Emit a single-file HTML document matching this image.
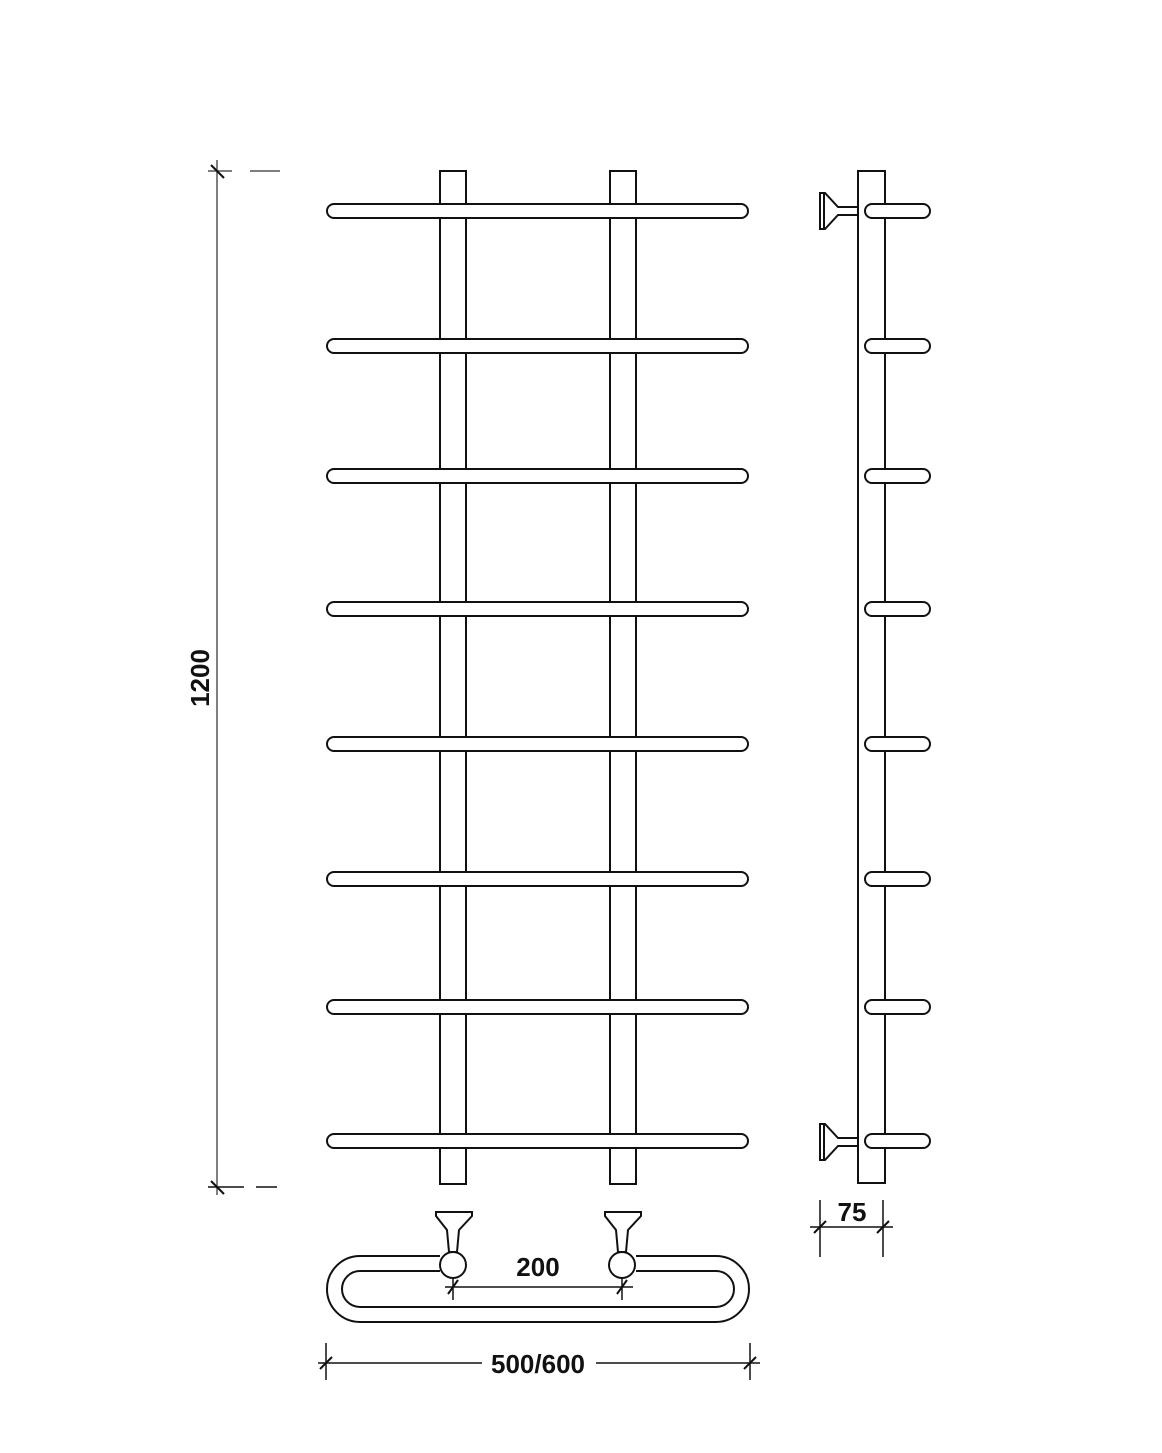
<!DOCTYPE html>
<html><head><style>body{margin:0;background:#fff}svg{display:block}</style></head>
<body>
<svg width="1162" height="1453" viewBox="0 0 1162 1453" xmlns="http://www.w3.org/2000/svg" font-family="Liberation Sans, sans-serif">
<g fill="none" stroke="#111" stroke-width="2">
<!-- front verticals -->
<rect x="440" y="171" width="26" height="1013" fill="#fff"/>
<rect x="610" y="171" width="26" height="1013" fill="#fff"/>
<!-- front bars -->
<g fill="#fff">
<rect x="327" y="204" width="421" height="14" rx="7"/>
<rect x="327" y="339" width="421" height="14" rx="7"/>
<rect x="327" y="469" width="421" height="14" rx="7"/>
<rect x="327" y="602" width="421" height="14" rx="7"/>
<rect x="327" y="737" width="421" height="14" rx="7"/>
<rect x="327" y="872" width="421" height="14" rx="7"/>
<rect x="327" y="1000" width="421" height="14" rx="7"/>
<rect x="327" y="1134" width="421" height="14" rx="7"/>
</g>
<!-- side view -->
<rect x="858" y="171" width="27" height="1012" fill="#fff"/>
<g fill="#fff">
<rect x="865" y="204" width="65" height="14" rx="7"/>
<rect x="865" y="339" width="65" height="14" rx="7"/>
<rect x="865" y="469" width="65" height="14" rx="7"/>
<rect x="865" y="602" width="65" height="14" rx="7"/>
<rect x="865" y="737" width="65" height="14" rx="7"/>
<rect x="865" y="872" width="65" height="14" rx="7"/>
<rect x="865" y="1000" width="65" height="14" rx="7"/>
<rect x="865" y="1134" width="65" height="14" rx="7"/>
</g>
<!-- side brackets -->
<g fill="#fff">
<path d="M820 193 L825 193 L838 207 L858 207 L858 215 L838 215 L825 229 L820 229 Z"/>
<line x1="824" y1="194" x2="824" y2="228"/>
<path d="M820 1124 L825 1124 L838 1138 L858 1138 L858 1146 L838 1146 L825 1160 L820 1160 Z"/>
<line x1="824" y1="1125" x2="824" y2="1159"/>
</g>
<!-- bottom view loop -->
<path d="M440 1256 L360 1256 A33 33 0 0 0 360 1322 L716 1322 A33 33 0 0 0 716 1256 L636 1256"/>
<path d="M440 1271 L360 1271 A18 18 0 0 0 360 1307 L716 1307 A18 18 0 0 0 716 1271 L636 1271"/>
<g fill="#fff">
<circle cx="453" cy="1265" r="13"/>
<circle cx="622" cy="1265" r="13"/>
<path d="M436 1212 L472 1212 L472 1216 L459 1230 L457 1252 L449 1252 L447 1230 L436 1216 Z"/>
<path d="M605 1212 L641 1212 L641 1216 L628 1230 L626 1252 L618 1252 L616 1230 L605 1216 Z"/>
</g>
<!-- 200 dimension -->
<line x1="445" y1="1287" x2="633" y2="1287" stroke-width="1.5"/>
<line x1="453" y1="1277" x2="453" y2="1300" stroke-width="1.5"/>
<line x1="622" y1="1277" x2="622" y2="1300" stroke-width="1.5"/>
<line x1="448" y1="1294" x2="458" y2="1280"/>
<line x1="617" y1="1294" x2="627" y2="1280"/>
<!-- 500/600 -->
<line x1="318" y1="1363" x2="482" y2="1363" stroke-width="1.5"/>
<line x1="596" y1="1363" x2="760" y2="1363" stroke-width="1.5"/>
<line x1="326" y1="1343" x2="326" y2="1380" stroke-width="1.5"/>
<line x1="750" y1="1343" x2="750" y2="1380" stroke-width="1.5"/>
<line x1="320" y1="1369" x2="332" y2="1357"/>
<line x1="744" y1="1369" x2="756" y2="1357"/>
<!-- 1200 -->
<line x1="217" y1="160" x2="217" y2="1195" stroke="#555" stroke-width="1.5"/>
<line x1="208" y1="171" x2="232" y2="171" stroke="#555" stroke-width="1.5"/>
<line x1="208" y1="1187" x2="244" y2="1187" stroke-width="1.5"/>
<line x1="250" y1="171" x2="280" y2="171" stroke="#555" stroke-width="1.5"/>
<line x1="256" y1="1187" x2="277" y2="1187" stroke-width="1.5"/>
<line x1="211" y1="165" x2="224" y2="178"/>
<line x1="211" y1="1181" x2="224" y2="1194"/>
<!-- 75 -->
<line x1="820" y1="1200" x2="820" y2="1257" stroke-width="1.5"/>
<line x1="883" y1="1200" x2="883" y2="1257" stroke-width="1.5"/>
<line x1="810" y1="1227" x2="893" y2="1227" stroke-width="1.5"/>
<line x1="814" y1="1233" x2="826" y2="1221"/>
<line x1="877" y1="1233" x2="889" y2="1221"/>
</g>
<g font-weight="bold" font-size="26" fill="#111" text-anchor="middle">
<text x="538" y="1276">200</text>
<rect x="483" y="1348" width="112" height="30" fill="#fff"/>
<text x="538" y="1373">500/600</text>
<text x="852" y="1221">75</text>
<text transform="translate(209,678) rotate(-90)">1200</text>
</g>
</svg>
</body></html>
